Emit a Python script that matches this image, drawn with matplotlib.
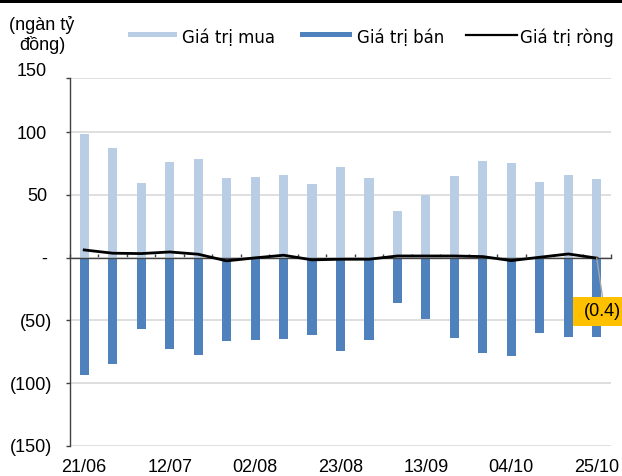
import numpy as np
import matplotlib
matplotlib.use("Agg")
import matplotlib.pyplot as plt
from matplotlib.patches import Rectangle
from matplotlib.lines import Line2D

# ---- data ----
dates = ["21/06", "28/06", "05/07", "12/07", "19/07", "26/07", "02/08", "09/08",
         "16/08", "23/08", "30/08", "06/09", "13/09", "20/09", "27/09", "04/10",
         "11/10", "18/10", "25/10"]
buy = [98.2, 87.3, 59.5, 76.5, 78.9, 63.5, 64.0, 65.9, 59.0, 72.0,
       63.5, 37.1, 49.5, 64.8, 76.7, 75.7, 60.1, 65.9, 62.2]
sell = [-93.4, -84.9, -56.6, -72.7, -77.2, -66.6, -65.3, -64.5, -61.3, -74.1,
        -65.3, -36.2, -48.9, -64.0, -76.2, -78.6, -60.3, -63.5, -63.2]
net = [6.1, 3.5, 3.2, 4.5, 2.7, -2.6, -0.2, 1.9, -1.8, -1.3,
       -1.3, 1.3, 1.3, 1.3, 0.8, -2.4, 0.3, 2.9, -0.4]
label_every = 3
pos_ticks = [0, 50, 100]
pos_labels = ["-", "50", "100"]
neg_ticks = [-150, -100, -50]
neg_labels = ["(150)", "(100)", "(50)"]
unit_label = "(ngàn tỷ\nđồng)"
legend_names = ["Giá trị mua", "Giá trị bán", "Giá trị ròng"]

C_BUY = "#B9CDE5"
C_SELL = "#4F81BD"
GRID = "#D9D9D9"
AX = "#404040"
FONT = ["Liberation Sans", "DejaVu Sans"]

W, H = 622, 476
fig = plt.figure(figsize=(W / 100, H / 100), dpi=100)
ax = fig.add_axes([70 / W, 1 - 446 / H, (611 - 70) / W, (446 - 78) / H])

x = np.arange(len(dates))
bw = 0.32
ax.bar(x, buy, width=bw, color=C_BUY, zorder=1)
ax.bar(x, sell, width=bw, color=C_SELL, zorder=1)
ax.plot(x, net, color="black", lw=2.0, zorder=4, solid_joinstyle="round")

YTOP = 143
ax.set_xlim(-0.5, len(dates) - 0.5)
ax.set_ylim(-150, YTOP)

# y axis: positive labels on major ticks, negative on minor (accounting alignment)
ax.set_yticks(pos_ticks)
ax.set_yticklabels(pos_labels)
ax.set_yticks(neg_ticks + [YTOP], minor=True)
ax.set_yticklabels(neg_labels + [""], minor=True)
ax.tick_params(axis="y", which="major", length=3, width=1, color=AX, pad=13.6,
               labelsize=13, labelcolor="black")
ax.tick_params(axis="y", which="minor", length=3, width=1, color=AX, pad=10,
               labelsize=13, labelcolor="black")
for lab in ax.get_yticklabels() + ax.get_yticklabels(minor=True):
    lab.set_fontfamily(FONT)
ax.grid(axis="y", which="both", color=GRID, lw=1.2, zorder=0)
ax.set_axisbelow(True)
# top value label (axis top is slightly below 150)
ax.annotate("150", xy=(0, 150), xycoords=("axes fraction", "data"),
            xytext=(-16.6, -1.5), textcoords="offset points", ha="right", va="center",
            fontsize=13, family=FONT, annotation_clip=False)

# x axis: line at zero with category boundary ticks
ax.spines["bottom"].set_position(("data", 0))
ax.spines["bottom"].set_color(AX)
ax.spines["bottom"].set_linewidth(1.0)
ax.spines["bottom"].set_zorder(3)
ax.spines["left"].set_color(AX)
ax.spines["left"].set_linewidth(1.0)
ax.spines["top"].set_visible(False)
ax.spines["right"].set_visible(False)
ax.set_xticks(np.arange(-0.5, len(dates), 1.0))
ax.tick_params(axis="x", direction="in", length=3, width=1, color=AX, labelbottom=False)

sec = ax.secondary_xaxis(0.0)
sec.set_xticks(x[::label_every])
sec.set_xticklabels(dates[::label_every])
sec.tick_params(length=0, pad=9, labelsize=13)
for lab in sec.get_xticklabels():
    lab.set_fontfamily(FONT)
for s in sec.spines.values():
    s.set_visible(False)

# data label for last net value
last = len(dates) - 1
ax.plot([x[last], x[last] + 0.2], [net[last], -31.3], color="#A6A6A6", lw=1.0, zorder=5)
ax.add_patch(Rectangle((last - 0.85, -54.4), 2.4, 23.1, facecolor="#FFC000",
                       edgecolor="none", zorder=6, clip_on=False))
ax.text(last - 0.45, -43.0, f"({abs(net[last]):.1f})", ha="left", va="center",
        fontsize=13, family=FONT, zorder=7, clip_on=False)

# unit label
fig.text(42 / W, 1 - 35 / H, unit_label, ha="center", va="center", fontsize=13,
         family=FONT, linespacing=1.15)

# legend (manual)
def fx(px):
    return px / W

def fy(py):
    return 1 - py / H

fig.add_artist(Rectangle((fx(128), fy(37)), fx(177) - fx(128), 5 / H,
                         facecolor=C_BUY, edgecolor="none"))
fig.text(fx(182), fy(37.5), legend_names[0], ha="left", va="center", fontsize=12,
         family="DejaVu Sans")
fig.add_artist(Rectangle((fx(300), fy(37)), fx(352) - fx(300), 5 / H,
                         facecolor=C_SELL, edgecolor="none"))
fig.text(fx(357), fy(37.5), legend_names[1], ha="left", va="center", fontsize=12,
         family="DejaVu Sans")
fig.add_artist(Line2D([fx(466), fx(517)], [fy(35), fy(35)], color="black", lw=1.6))
fig.text(fx(520), fy(37.5), legend_names[2], ha="left", va="center", fontsize=12,
         family="DejaVu Sans")

# top border line
fig.add_artist(Rectangle((0, 1 - 2.5 / H), 1, 2.5 / H, facecolor="black",
                         edgecolor="none"))

fig.savefig("out.png", dpi=100)
